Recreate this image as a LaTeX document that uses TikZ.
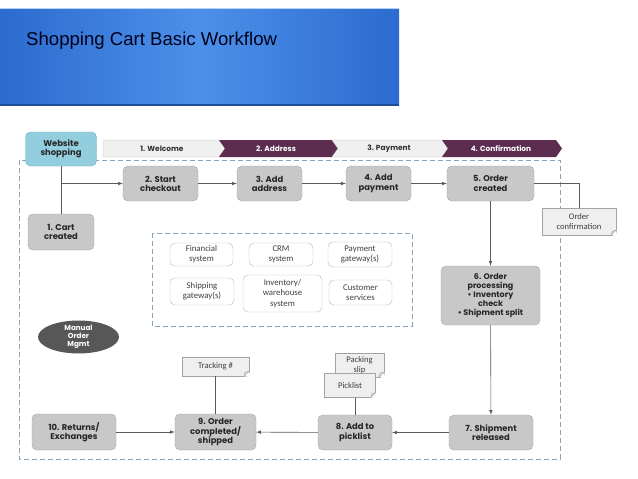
\documentclass[tikz,border=0pt]{standalone}
\usepackage{fontspec}
\setmainfont{Liberation Sans}
\newfontfamily\stepfont{Poppins}
\newfontfamily\sysfont{Carlito}
\usetikzlibrary{positioning,shapes.geometric}

\definecolor{tbside}{HTML}{2C6BCF}
\definecolor{tbmid}{HTML}{4C90EA}
\definecolor{tbedge}{HTML}{1F4C96}
\definecolor{stepfill}{HTML}{C8C8C8}
\definecolor{stepedge}{HTML}{A3A3A3}
\definecolor{webfill}{HTML}{93CEDE}
\definecolor{webedge}{HTML}{6CB0C6}
\definecolor{plum}{HTML}{5C2D50}
\definecolor{framecol}{HTML}{8AA2BA}
\definecolor{linkcol}{HTML}{5A5A5A}
\definecolor{notefill}{HTML}{EFEFEF}
\definecolor{notedge}{HTML}{A3A3A3}
\definecolor{mgmtfill}{HTML}{575757}

\tikzset{every node/.style={align=center}, >=latex,
  stepbox/.style={draw=stepedge, fill=stepfill, rounded corners=5pt, minimum height=35pt, inner sep=1pt,
    text=black!85, font=\stepfont\bfseries\fontsize{8.4}{9.2}\selectfont},
  sysbox/.style={draw=gray!55, fill=white, rounded corners=5pt, inner sep=1pt,
    text=black!75, font=\sysfont\fontsize{8.8}{10.2}\selectfont},
  notebox/.style={draw=notedge, fill=notefill, inner sep=1pt,
    text=black!75, font=\sysfont\fontsize{8.6}{10}\selectfont},
  link/.style={draw=linkcol, line width=0.6pt},
  frame/.style={draw=framecol, line width=0.8pt, dash pattern=on 5pt off 3pt},
  bantext/.style={font=\stepfont\bfseries\fontsize{7.4}{8}\selectfont}}

% folded corner of a note
\newcommand\foldnote[1]{%
  \fill[white] ([xshift=-5pt]#1.south east) -- ([yshift=5pt]#1.south east) -- ([shift={(1pt,-1pt)}]#1.south east) -- cycle;
  \filldraw[draw=notedge, fill=notefill!80!gray, line width=0.4pt] ([xshift=-5pt]#1.south east) -- ([yshift=5pt]#1.south east) -- ([shift={(-4pt,4pt)}]#1.south east) -- cycle;}

\begin{document}
\begin{tikzpicture}[x=1pt, y=-1pt]
  \useasboundingbox (0,0) rectangle (638,479);
  \fill[white] (0,0) rectangle (638,479);

  % title bar
  \shade[left color=tbside, right color=tbside, middle color=tbmid] (0,8) rectangle (399,105);
  \draw[tbedge, line width=1.2pt] (0,105) -- (399,105);
  \draw[tbmid!40!white, line width=0.6pt] (0,8) -- (399,8);
  \node[anchor=west, inner sep=0pt, text=black!90!blue, font=\fontsize{18.6}{20}\selectfont] (title) at (26,41) {Shopping Cart Basic Workflow};

  % frames
  \draw[frame] (19,160) rectangle (560,459);
  \draw[frame] (152,233) rectangle (412,326);

  % phase banner
  \filldraw[fill=notefill, draw=gray!45, line width=0.4pt] (103,140) -- (219,140) -- (225,148.5) -- (219,157) -- (103,157) -- cycle;
  \fill[plum] (219,140) -- (332,140) -- (338,148.5) -- (332,157) -- (219,157) -- (225,148.5) -- cycle;
  \filldraw[fill=notefill, draw=gray!45, line width=0.4pt] (332,140) -- (442,140) -- (448,148.5) -- (442,157) -- (332,157) -- (338,148.5) -- cycle;
  \fill[plum] (442,140) -- (556,140) -- (562,148.5) -- (556,157) -- (442,157) -- (448,148.5) -- cycle;
  \node[bantext, text=black!80] (ph1) at (162,148.5) {1. Welcome};
  \node[bantext, text=white] (ph2) at (276,148.5) {2. Address};
  \node[bantext, text=black!80] (ph3) at (389,148.5) {3. Payment};
  \node[bantext, text=white] (ph4) at (501,148.5) {4. Confirmation};

  % steps
  \node[stepbox, fill=webfill, draw=webedge, minimum width=71pt, minimum height=34pt] (web) at (61,149) {Website\\shopping};
  \node[stepbox, minimum width=66pt, minimum height=36pt] (s1) at (61,232) {1. Cart\\created};
  \node[stepbox, minimum width=75pt] (s2) at (160.5,183.5) {2. Start\\checkout};
  \node[stepbox, minimum width=65pt] (s3) at (269.5,183.5) {3. Add\\address};
  \node[stepbox, minimum width=65pt] (s4) at (378.5,183.5) {4. Add\\payment};
  \node[stepbox, minimum width=87pt] (s5) at (490.5,183.5) {5. Order\\created};
  \node[stepbox, minimum width=99pt, minimum height=59pt, font=\stepfont\bfseries\fontsize{8}{8.8}\selectfont] (s6) at (490.5,295.5) {6. Order\\processing\\\textbullet\ Inventory\\check\\\textbullet\ Shipment split};
  \node[stepbox, minimum width=84pt] (s7) at (491,432.5) {7. Shipment\\released};
  \node[stepbox, minimum width=74pt] (s8) at (355,432.5) {8. Add to\\picklist};
  \node[stepbox, minimum width=81pt, minimum height=36pt] (s9) at (215.5,432) {9. Order\\completed/\\shipped};
  \node[stepbox, minimum width=84pt, minimum height=36pt] (s10) at (74,432) {10. Returns/\\Exchanges};
  \node[ellipse, fill=mgmtfill, minimum width=81pt, minimum height=32pt, inner sep=0pt, text=white,
    font=\stepfont\bfseries\fontsize{7.2}{8}\selectfont] (mgmt) at (78.5,337) {Manual\\Order\\Mgmt};

  % systems
  \node[sysbox, minimum width=63pt, minimum height=23pt] (fin) at (201.5,254.5) {Financial\\system};
  \node[sysbox, minimum width=64pt, minimum height=23pt] (crm) at (281,254.5) {CRM\\system};
  \node[sysbox, minimum width=64pt, minimum height=25pt] (pay) at (360,254.5) {Payment\\gateway(s)};
  \node[sysbox, minimum width=64pt, minimum height=27pt] (ship) at (202,291.5) {Shipping\\gateway(s)};
  \node[sysbox, minimum width=79pt, minimum height=37pt] (inv) at (282.5,293.5) {Inventory/\\warehouse\\system};
  \node[sysbox, minimum width=63pt, minimum height=25pt] (cust) at (360.5,292.5) {Customer\\services};

  % documents
  \node[notebox, minimum width=74pt, minimum height=27pt] (conf) at (579,221.5) {Order\\confirmation};
  \node[notebox, minimum width=67pt, minimum height=19pt] (track) at (215.5,366.5) {Tracking \#};
  \node[notebox, minimum width=49pt, minimum height=24pt] (slip) at (359.5,365) {Packing\\slip};
  \node[notebox, minimum width=51pt, minimum height=24pt, below left=-4pt and -41pt of slip] (pick) {Picklist};
  \foldnote{conf}
  \foldnote{track}
  \foldnote{slip}
  \foldnote{pick}

  % connectors
  \draw[link] (web.south) -- (s1.north);
  \draw[link,->] (web.south |- s2.west) -- (s2.west);
  \draw[link,->] (s2) -- (s3);
  \draw[link,->] (s3) -- (s4);
  \draw[link,->] (s4) -- (s5);
  \draw[link] (s5.east) -| (conf.north);
  \draw[link,->] (s5) -- (s6);
  \draw[link,->] (s6) -- (s7);
  \draw[link,->] (s7) -- (s8);
  \draw[link,->] (s8) -- (s9);
  \draw[link,->] (s10) -- (s9);
  \draw[link] (pick.south -| s8.north) -- (s8.north);
  \draw[link] (track) -- (s9);
\end{tikzpicture}
\end{document}
